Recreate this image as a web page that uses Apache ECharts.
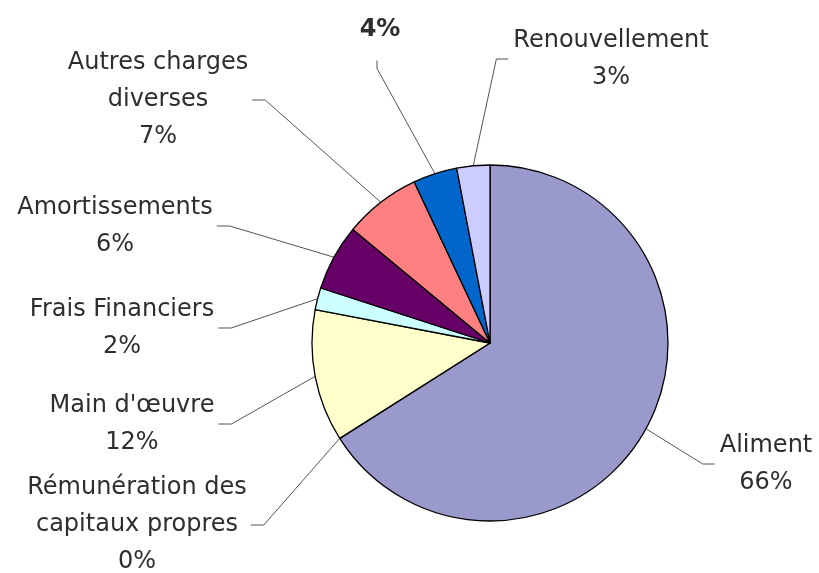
<!DOCTYPE html>
<html>
<head>
<meta charset="utf-8">
<script src="https://cdn.jsdelivr.net/npm/echarts@6/dist/echarts.min.js"></script>
<style>
  html, body { margin: 0; padding: 0; background: #ffffff; }
  #chart { width: 819px; height: 573px; }
</style>
</head>
<body>
<div id="chart"></div>
<script>
// Cost breakdown, clockwise from 12 o'clock
const categories = [
  'Aliment',
  'Rémunération des\ncapitaux propres',
  "Main d'œuvre",
  'Frais Financiers',
  'Amortissements',
  'Autres charges\ndiverses',
  '',
  'Renouvellement'
];
const shares = [66, 0, 12, 2, 6, 7, 4, 3];
const sliceColors = ['#9999CC', '#993366', '#FFFFCC', '#CCFFFF', '#660066', '#FF8080', '#0066CC', '#CCCCFF'];

// Label block centres and the side the guide line attaches to
const labelSpots = [
  [766, 464, 'left'],
  [137, 525, 'right'],
  [132, 424, 'right'],
  [122, 328, 'right'],
  [115, 226, 'right'],
  [158, 100, 'right'],
  [380, 30, 'bottom'],
  [611, 59, 'left']
];

const chart = echarts.init(document.getElementById('chart'), null, { renderer: 'canvas' });

const CX = 490, CY = 343, R = 178;

// Anchor on the outer arc at the middle angle of a slice
function arcAnchor(idx) {
  const total = shares.reduce((a, b) => a + b, 0);
  let before = 0;
  for (let i = 0; i < idx; i++) before += shares[i];
  const mid = (before + shares[idx] / 2) / total * Math.PI * 2;
  return [CX + R * Math.sin(mid), CY - R * Math.cos(mid)];
}

chart.setOption({
  backgroundColor: '#ffffff',
  animation: false,
  series: [{
    type: 'pie',
    center: [CX, CY],
    radius: R,
    startAngle: 90,
    clockwise: true,
    avoidLabelOverlap: false,
    percentPrecision: 0,
    itemStyle: { borderColor: '#000000', borderWidth: 1.3 },
    label: {
      show: true,
      position: 'outside',
      fontFamily: 'DejaVu Sans',
      fontSize: 24,
      lineHeight: 37,
      color: '#2e2e2e',
      align: 'center',
      formatter: function (p) {
        return p.name ? p.name + '\n' + p.value + '%' : '{b|' + p.value + '%}';
      },
      rich: {
        b: { fontFamily: 'DejaVu Sans', fontSize: 24, fontWeight: 'bold', color: '#2e2e2e' }
      }
    },
    labelLine: {
      show: true,
      length: 20,
      length2: 10,
      lineStyle: { color: '#555555', width: 1 }
    },
    labelLayout: function (p) {
      const spot = labelSpots[p.dataIndex];
      const w = p.labelRect.width, h = p.labelRect.height;
      const x = spot[0], y = spot[1];
      const anchor = arcAnchor(p.dataIndex);
      let end, elbow;
      if (spot[2] === 'right') {
        end = [x + w / 2 + 4, y];
        elbow = [end[0] + 13, y];
      } else if (spot[2] === 'left') {
        end = [x - w / 2 - 5, y];
        elbow = [end[0] - 12, y];
      } else {
        end = [x - 3, y + h / 2 + 12];
        elbow = [x - 3, end[1] + 8];
      }
      return {
        x: x,
        y: y,
        align: 'center',
        verticalAlign: 'middle',
        labelLinePoints: [anchor, elbow, end]
      };
    },
    emphasis: { disabled: true },
    data: categories.map((name, i) => ({
      name: name,
      value: shares[i],
      itemStyle: { color: sliceColors[i] }
    }))
  }]
});
</script>
</body>
</html>
